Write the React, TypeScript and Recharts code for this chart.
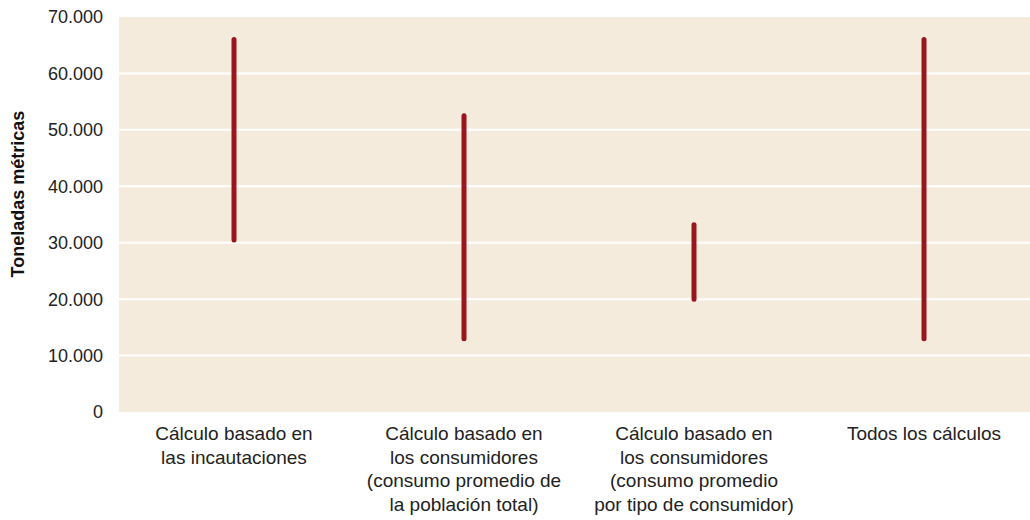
import React from 'react';
import { BarChart, Bar, XAxis, YAxis, CartesianGrid, Label } from 'recharts';

// range estimates in tonnes (low / high)
const CATEGORIES = [
  'Cálculo basado en\nlas incautaciones',
  'Cálculo basado en\nlos consumidores\n(consumo promedio de\nla población total)',
  'Cálculo basado en\nlos consumidores\n(consumo promedio\npor tipo de consumidor)',
  'Todos los cálculos',
];
const LOW_VALUES = [30500, 13000, 20000, 13000];
const HIGH_VALUES = [66000, 52500, 33200, 66000];
const Y_TICKS = [0, 10000, 20000, 30000, 40000, 50000, 60000, 70000];

const data = CATEGORIES.map((name, i) => ({
  name,
  range: [LOW_VALUES[i], HIGH_VALUES[i]],
}));

const FONT = '"Liberation Sans", Arial, sans-serif';
const BAR_COLOR = '#9a151c';

const fmt = (v: number) => String(v).replace(/\B(?=(\d{3})+(?!\d))/g, '.');

function RangeLine(props: any) {
  const { x, y, width, height } = props;
  const cx = x + width / 2;
  return (
    <line
      x1={cx}
      x2={cx}
      y1={y}
      y2={y + height}
      stroke={BAR_COLOR}
      strokeWidth={5}
      strokeLinecap="round"
    />
  );
}

function CategoryTick(props: any) {
  const { x, y, payload } = props;
  const lines: string[] = String(payload.value).split('\n');
  return (
    <text x={x} y={y} textAnchor="middle" fill="#222" fontSize={19} fontFamily={FONT}>
      {lines.map((line, i) => (
        <tspan key={i} x={x} dy={i === 0 ? 20 : 23.5}>
          {line}
        </tspan>
      ))}
    </text>
  );
}

function AxisTitle() {
  const x = 24;
  const y = 194;
  return (
    <text
      x={x}
      y={y}
      transform={`rotate(-90, ${x}, ${y})`}
      textAnchor="middle"
      fill="#111"
      fontSize={18}
      fontWeight="bold"
      fontFamily={FONT}
    >
      Toneladas métricas
    </text>
  );
}

export default function App() {
  return (
    <div
      style={{
        position: 'absolute',
        left: 0,
        top: 0,
        width: 1030,
        height: 520,
        overflow: 'hidden',
        background: '#fff',
      }}
    >
      {/* plot runs a little past the right edge, as in the source image */}
      <BarChart
        width={1039}
        height={520}
        data={data}
        margin={{ top: 17, right: 0, left: 0, bottom: 0 }}
        barCategoryGap="40%"
      >
        <CartesianGrid
          vertical={false}
          horizontal
          stroke="#ffffff"
          strokeWidth={2}
          fill="#f5ebdc"
          fillOpacity={1}
          horizontalValues={[10000, 20000, 30000, 40000, 50000, 60000]}
        />
        <XAxis
          dataKey="name"
          axisLine={false}
          tickLine={false}
          interval={0}
          height={108}
          tick={<CategoryTick />}
        />
        <YAxis
          width={119}
          domain={[0, 70000]}
          ticks={Y_TICKS}
          tickFormatter={fmt}
          axisLine={false}
          tickLine={false}
          tickSize={0}
          tickMargin={16}
          tick={{ fill: '#222', fontSize: 18, fontFamily: FONT }}
        >
          <Label content={<AxisTitle />} />
        </YAxis>
        <Bar dataKey="range" shape={<RangeLine />} isAnimationActive={false} />
      </BarChart>
    </div>
  );
}
